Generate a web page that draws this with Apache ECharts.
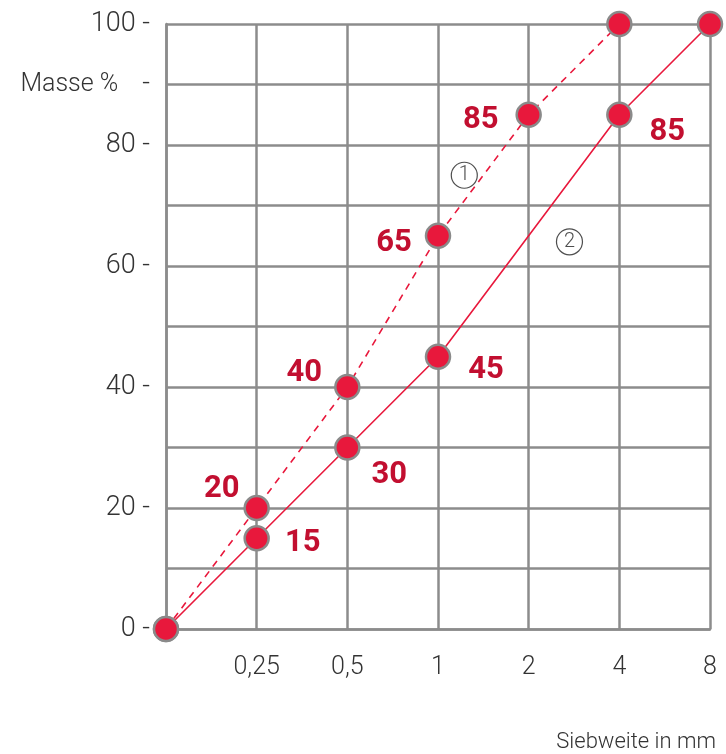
<!DOCTYPE html>
<html>
<head>
<meta charset="utf-8">
<script src="https://cdn.jsdelivr.net/npm/echarts@6/dist/echarts.min.js"></script>
<style>
  html, body { margin: 0; padding: 0; background: #fff; }
  #chart { width: 726px; height: 754px; }
</style>
</head>
<body>
<div id="chart"></div>
<script>
// Siebkurven: Sieblinie 1 (gestrichelt) und 2 (durchgezogen)
const sizes = ['', '0,25', '0,5', '1', '2', '4', '8'];
const curve1 = [0, 20, 40, 65, 85, 100, null];
const curve2 = [0, 15, 30, 45, null, 85, 100];
const yTicks = [0, 20, 40, 60, 80, 100];
const notes = [['1', 3.29, 75], ['2', 4.45, 64]];

// label offsets (px) per point
const off1 = [null, [-35, -19], [-43, -14], [-44, 7], [-48, 5], null, null];
const off2 = [null, [46, 5], [42, 28], [48, 13], null, [48, 17], null];

const red = '#e8183c';
const labelRed = '#c20f30';
const gridGray = '#8c8c8c';
const font = 'Roboto, Liberation Sans, sans-serif';

function pts(vals, offs) {
    return vals.map((v, i) => {
        if (v === null) return null;
        const o = offs[i];
        return {
            value: [i, v],
            label: o ? { show: true, position: 'inside', offset: o } : { show: false }
        };
    });
}

const chart = echarts.init(document.getElementById('chart'));
const marker = {
    color: red,
    borderColor: '#8a8a8a',
    borderWidth: 2.5
};
const lbl = {
    color: labelRed,
    fontSize: 31,
    fontWeight: 'bold',
    fontFamily: font,
    formatter: p => p.value[1]
};

chart.setOption({
    animation: false,
    title: {
        text: 'Siebweite in mm',
        right: 5,
        top: 726,
        textStyle: { color: '#333', fontSize: 22, fontWeight: 300, fontFamily: font }
    },
    grid: { left: 166, right: 16, top: 24, bottom: 125 },
    xAxis: [{
        type: 'category',
        data: sizes,
        boundaryGap: false,
        axisLine: { show: true, lineStyle: { color: gridGray, width: 2.5 } },
        axisTick: { show: false },
        axisLabel: { color: '#333', fontSize: 25, fontWeight: 300, margin: 26, fontFamily: font, interval: 0 },
        splitLine: { show: true, lineStyle: { color: gridGray, width: 2.5 } }
    }, {
        type: 'value',
        min: 0, max: 6,
        show: false
    }],
    yAxis: {
        type: 'value',
        min: 0, max: 100, interval: 10,
        axisLine: { show: true, lineStyle: { color: gridGray, width: 2.5 } },
        axisTick: { show: false },
        splitLine: { show: true, lineStyle: { color: gridGray, width: 2.5 } },
        axisLabel: {
            margin: 16,
            color: '#333',
            fontSize: 27,
            fontWeight: 300,
            fontFamily: font,
            formatter: v => {
                if (v === 90) return '{m|Masse %}{d|-}';
                return yTicks.indexOf(v) >= 0 ? v + ' -' : '';
            },
            rich: {
                m: { fontSize: 25, fontWeight: 300, color: '#333', padding: [0, 24, 0, 0], fontFamily: font },
                d: { fontSize: 27, fontWeight: 300, color: '#333', fontFamily: font }
            }
        }
    },
    series: [{
        name: '1',
        type: 'line',
        data: pts(curve1, off1),
        connectNulls: true,
        symbol: 'circle',
        symbolSize: 24,
        lineStyle: { color: red, width: 1.6, type: [7, 6] },
        itemStyle: marker,
        label: lbl,
        z: 3
    }, {
        name: '2',
        type: 'line',
        data: pts(curve2, off2),
        connectNulls: true,
        symbol: 'circle',
        symbolSize: 24,
        lineStyle: { color: red, width: 1.6 },
        itemStyle: marker,
        label: lbl,
        z: 3
    }, {
        type: 'scatter',
        xAxisIndex: 1,
        data: notes.map(n => ({ value: [n[1], n[2]], name: n[0] })),
        symbol: 'circle',
        symbolSize: 26,
        itemStyle: { color: '#fff', borderColor: '#222', borderWidth: 1.2 },
        label: {
            show: true,
            position: 'inside',
            color: '#222',
            fontSize: 20,
            fontWeight: 300,
            fontFamily: font,
            formatter: p => p.name
        },
        z: 4
    }]
});
</script>
</body>
</html>
